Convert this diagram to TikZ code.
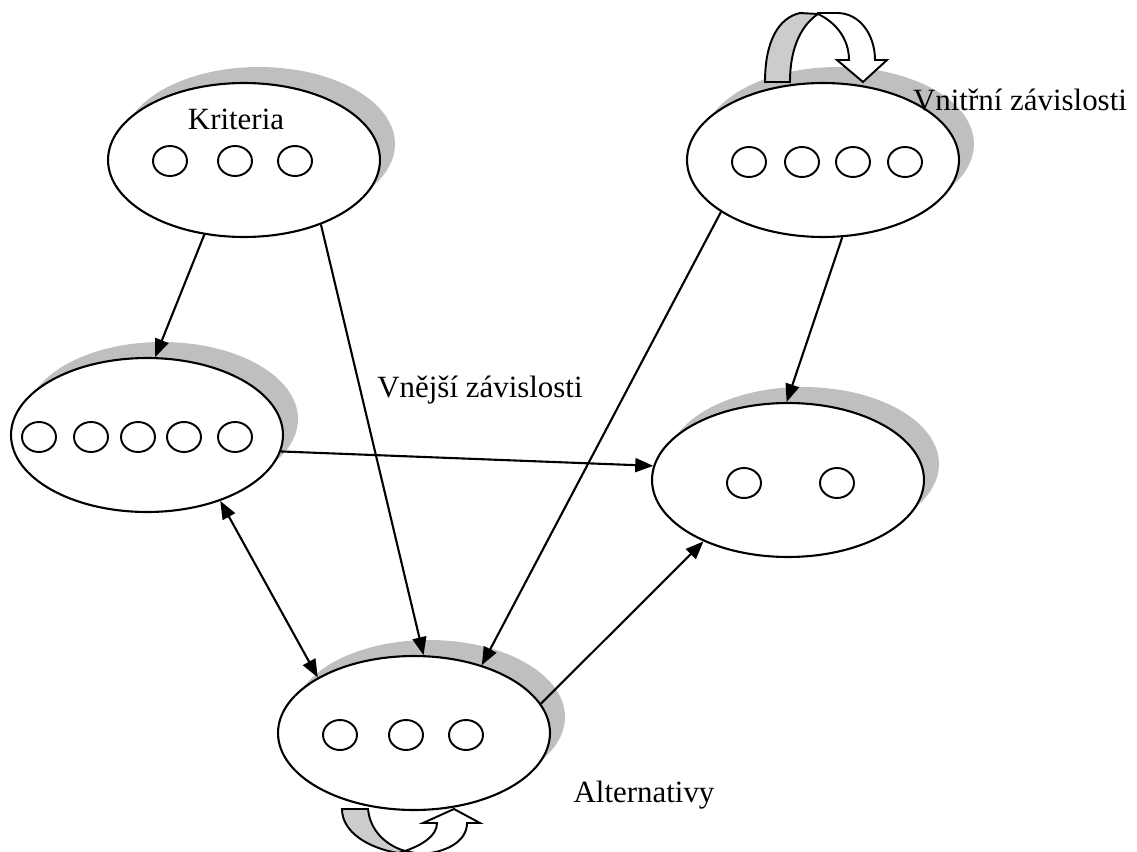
\documentclass[tikz,border=0pt]{standalone}
\usepackage{fontspec}
\setmainfont{Liberation Serif}
\usetikzlibrary{shapes,arrows.meta,shadows}
\tikzset{cluster/.style={ellipse, draw, fill=white, line width=1.2pt,
    minimum width=5.44cm, minimum height=3.08cm, inner sep=0pt,
    drop shadow={shadow xshift=0.3cm, shadow yshift=0.32cm, fill=black!25, opacity=1}},
  element/.style={ellipse, draw, line width=1.1pt, minimum width=0.68cm,
    minimum height=0.6cm, inner sep=0pt},
  popis/.style={anchor=base, inner sep=0pt, font=\fontsize{17.6}{20}\selectfont},
  tip/.tip={Triangle[length=0.36cm,width=0.28cm]},
  link/.style={line width=1.2pt, -tip},
  backside/.style={draw, line width=1.1pt, fill=black!20},
  frontside/.style={draw, line width=1.1pt, fill=white}
}

\begin{document}
\begin{tikzpicture}[x=0.02cm, y=-0.02cm]
  \useasboundingbox (0,0) rectangle (1137,852);

  % clusters
  \node[cluster] (kr) at (244,160) {};
  \node[cluster] (lf) at (147,435) {};
  \node[cluster] (tr) at (823,160) {};
  \node[cluster] (rt) at (788,480) {};
  \node[cluster] (bt) at (414,733) {};

  % elements
  \foreach \x [count=\i] in {170,235,295}
    \node[element] (kr\i) at (\x,161) {};
  \foreach \x [count=\i] in {39,91,138,184,235}
    \node[element] (lf\i) at (\x,437) {};
  \foreach \x [count=\i] in {749,802,853,905}
    \node[element] (tr\i) at (\x,162) {};
  \foreach \x [count=\i] in {744,837}
    \node[element] (rt\i) at (\x,483) {};
  \foreach \x [count=\i] in {340,406,466}
    \node[element] (bt\i) at (\x,735) {};

  % texts
  \node[popis] (kriteria) at (236,129) {Kriteria};
  \node[popis] (vnejsi)   at (480,397) {Vnější závislosti};
  \node[popis] (vnitrni)  at (1020,110) {Vnitřní závislosti};
  \node[popis] (altern)   at (644,802) {Alternativy};

  % dependencies
  \draw[link] (kr.242) -- (lf.84);
  \draw[link] (kr.320) -- (bt.83);
  \draw[link] (lf.353) -- (rt.174);
  \draw[link, tip-tip] (lf.318) -- (bt.150);
  \draw[link] (tr.207) -- (bt.45);
  \draw[link] (tr.284) -- (rt.91);
  \draw[link] (bt.13) -- (rt.216);

  % loop over the top cluster
  \draw[backside] (765,82) -- (790,82) .. controls (790,45) and (803,24) .. (818,14)
    -- (800,13) .. controls (778,18) and (765,42) .. cycle;
  \draw[frontside] (818,14) -- (818,13) -- (837,13) .. controls (860,13) and (875,35) .. (875,60)
    -- (887,60) -- (863,82) -- (837,60) -- (849,60)
    .. controls (849,38) and (835,22) .. (818,14) -- cycle;

  % loop under the bottom cluster
  \draw[backside] (342,809) -- (368,809) .. controls (370,830) and (385,845) .. (405,851)
    -- (398,853) .. controls (368,848) and (342,832) .. cycle;
  \draw[frontside] (405,851) .. controls (422,845) and (437,836) .. (437,823)
    -- (423,823) -- (454,809) -- (480,823) -- (467,823)
    .. controls (467,842) and (445,853) .. (420,854) -- cycle;
\end{tikzpicture}
\end{document}
